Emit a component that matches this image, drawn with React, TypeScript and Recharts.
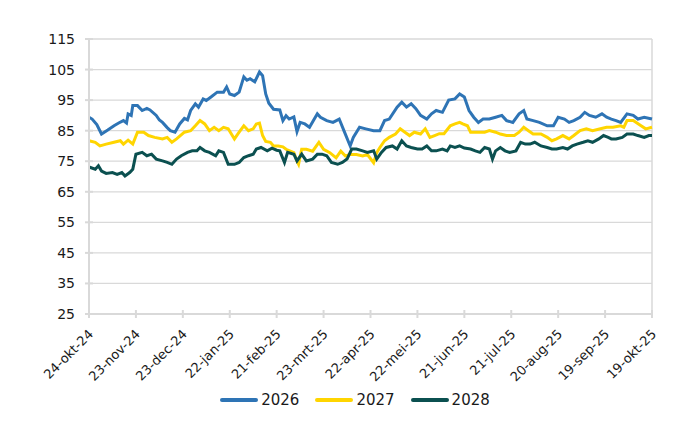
import React from "react";
import {
  LineChart,
  Line,
  XAxis,
  YAxis,
  CartesianGrid,
  Legend,
  ReferenceLine,
} from "recharts";

document.body.style.margin = "0";

// x-axis: days since 24-okt-24, a label every 30 days
const tickLabels = [
  "24-okt-24",
  "23-nov-24",
  "23-dec-24",
  "22-jan-25",
  "21-feb-25",
  "23-mrt-25",
  "22-apr-25",
  "22-mei-25",
  "21-jun-25",
  "21-jul-25",
  "20-aug-25",
  "19-sep-25",
  "19-okt-25",
];
const xTicks = tickLabels.map((_, i) => i * 30);
const yTicks = [25, 35, 45, 55, 65, 75, 85, 95, 105, 115];

const days2026 = [
  0, 2, 5, 8, 12, 16, 19, 22, 24, 25, 27, 28, 31, 34, 37, 39, 43, 45, 47, 50,
  52, 55, 58, 61, 63, 65, 68, 70, 73, 75, 78, 82, 86, 88, 90, 93, 96, 99, 101,
  103, 106, 109, 111, 113, 115, 118, 122, 124, 126, 128, 131, 133, 135, 138,
  141, 146, 148, 152, 156, 160, 163, 167, 169, 173, 177, 182, 186, 189, 192,
  197, 200, 203, 206, 209, 212, 216, 219, 222, 226, 230, 234, 237, 240, 243,
  246, 249, 252, 256, 260, 264, 267, 271, 275, 278, 280, 284, 288, 293, 297,
  300, 304, 307, 310, 314, 317, 320, 324, 328, 331, 334, 337, 340, 344, 348,
  351, 355, 360,
];
const values2026 = [
  89.4, 88.8, 87, 83.9, 85.2, 86.6, 87.5, 88.3, 87.5, 90.5, 90, 93.2, 93.2,
  91.6, 92.3, 91.8, 90, 88.5, 87.7, 86, 85, 84.5, 87.2, 89, 88.5, 91.6, 93.8,
  92.7, 95.4, 94.9, 96, 97.6, 97.6, 99.3, 97, 96.5, 97.6, 102.6, 101.5, 102,
  101, 104.2, 103, 97, 94, 92, 91.8, 88.3, 89.9, 88.8, 89.5, 84.7, 87.7, 87.2,
  86.1, 90.5, 89.4, 88.3, 87.7, 88.8, 85, 80, 82.8, 86.1, 85.6, 85, 85, 88.3,
  88.8, 92.7, 94.3, 92.7, 93.8, 92.2, 90, 88.8, 90.5, 91.6, 91, 95, 95.4, 97,
  96, 91.6, 89.4, 87.7, 88.8, 88.8, 89.4, 90, 88.3, 87.7, 90.5, 91.6, 88.8,
  88.3, 87.7, 86.6, 86.6, 89.4, 88.8, 87.7, 88.3, 89.4, 91, 90, 89.4, 90.5,
  89.4, 88.8, 88.3, 87.7, 90.5, 90, 88.8, 89.4, 88.8,
];

const days2027 = [
  0, 4, 7, 11, 16, 20, 22, 25, 28, 31, 35, 38, 42, 47, 50, 53, 56, 61, 65, 68,
  71, 74, 77, 80, 83, 86, 89, 93, 96, 99, 102, 105, 107, 109, 111, 113, 116,
  118, 121, 124, 126, 131, 133, 134, 136, 139, 143, 147, 150, 154, 158, 161,
  164, 167, 171, 175, 178, 182, 184, 186, 189, 192, 196, 199, 202, 205, 208,
  212, 215, 218, 221, 224, 227, 231, 234, 237, 239, 242, 244, 247, 250, 253,
  256, 260, 263, 267, 272, 275, 278, 281, 284, 289, 293, 296, 299, 303, 307,
  310, 314, 318, 322, 327, 331, 335, 340, 342, 344, 348, 353, 356, 360,
];
const values2027 = [
  81.7, 81.2, 80, 80.6, 81.2, 81.7, 80.6, 81.9, 80.6, 84.5, 84.5, 83.4, 82.8,
  82.3, 82.8, 81.2, 82.3, 84.5, 85, 86.6, 88.3, 87.2, 85, 86.1, 85, 86.1, 85.6,
  82.3, 84.5, 86.6, 85, 85.6, 87.2, 87.5, 83.4, 81.5, 81.2, 80, 80, 79.7, 78.9,
  77.8, 75, 74, 78.9, 78.9, 78.3, 81.2, 78.9, 77.8, 76.1, 78.3, 76.7, 77.2,
  77.2, 76.7, 77.2, 74.5, 77.8, 79.5, 81.7, 82.8, 83.9, 85.6, 84.5, 83.4, 84.5,
  83.9, 85.6, 82.8, 83.4, 84, 84, 86.6, 87.2, 87.7, 87.2, 86.6, 84.5, 84.5,
  84.5, 84.5, 85, 84.5, 83.9, 83.4, 83.4, 84.5, 86.1, 85, 83.9, 83.9, 82.8,
  81.7, 82.3, 83.4, 82.3, 83.4, 85, 85.6, 85, 85.6, 86.1, 86.1, 86.6, 86.1,
  88.3, 88.3, 86.6, 85.6, 86.1,
];

const days2028 = [
  0, 4, 6, 8, 11, 15, 18, 21, 23, 26, 28, 30, 34, 37, 40, 43, 47, 50, 53, 56,
  59, 63, 66, 69, 71, 74, 77, 81, 83, 86, 89, 93, 96, 99, 102, 105, 107, 110,
  114, 117, 120, 122, 125, 127, 131, 133, 136, 139, 143, 146, 149, 152, 155,
  159, 162, 165, 168, 171, 175, 178, 182, 184, 187, 190, 194, 197, 200, 203,
  206, 210, 213, 216, 219, 222, 226, 229, 231, 234, 237, 240, 244, 247, 250,
  253, 256, 258, 260, 263, 266, 269, 273, 276, 279, 282, 285, 289, 293, 296,
  299, 303, 306, 309, 312, 316, 319, 322, 326, 329, 332, 334, 337, 341, 344,
  348, 351, 355, 358, 360,
];
const values2028 = [
  73.1, 72.4, 73.5, 71.8, 71, 71.3, 70.7, 71.3, 70.2, 71.3, 72.4, 77.3, 77.9,
  76.8, 77.3, 75.7, 75.1, 74.6, 74, 75.7, 76.8, 77.9, 78.4, 78.4, 79.5, 78.4,
  77.9, 76.8, 78.4, 77.9, 74, 74, 74.6, 76.2, 76.8, 77.3, 79, 79.5, 78.4, 79.3,
  78.6, 78.4, 74.6, 77.9, 77.3, 75.1, 77.3, 75.1, 75.7, 77.3, 77.3, 76.8, 74.6,
  74, 74.6, 75.7, 79, 79, 78.4, 77.9, 78.4, 75.7, 77.9, 79.5, 80, 79, 81.7, 80,
  79.5, 79, 79, 80, 78.4, 78.4, 79, 78.4, 80, 79.5, 80, 79.3, 79, 78.4, 77.9,
  79.5, 79, 75.7, 78.4, 79.5, 78.4, 77.9, 78.4, 81.2, 80.6, 80.6, 81.2, 80,
  79.5, 79, 79, 79.5, 79, 80, 80.6, 81.2, 81.7, 81.2, 82.3, 83.4, 82.8, 82.3,
  82.3, 82.8, 83.9, 83.9, 83.4, 82.8, 83.4, 83.4,
];

const toPoints = (days: number[], values: number[]) =>
  days.map((day, i) => ({ day, value: values[i] }));

const series = [
  { name: "2026", color: "#2e74b5", data: toPoints(days2026, values2026) },
  { name: "2027", color: "#ffd500", data: toPoints(days2027, values2027) },
  { name: "2028", color: "#0b5050", data: toPoints(days2028, values2028) },
];

const axisColor = "#d9d9d9";
const font = "'DejaVu Sans', sans-serif";

const YTick = ({ x, y, payload }: any) => (
  <g>
    <line x1={x - 4} x2={x + 4} y1={y} y2={y} stroke={axisColor} strokeWidth={2} />
    <text
      x={x - 14}
      y={y}
      dy={5}
      textAnchor="end"
      fontSize={14}
      fill="#1a1a1a"
      fontFamily={font}
    >
      {payload.value}
    </text>
  </g>
);

const XTick = ({ x, y, payload }: any) => (
  <g>
    <line x1={x} x2={x} y1={y - 4} y2={y + 4} stroke={axisColor} strokeWidth={2} />
    <text
      transform={`translate(${x + 5},${y + 21}) rotate(-45)`}
      textAnchor="end"
      fontSize={13}
      fill="#1a1a1a"
      fontFamily={font}
    >
      {tickLabels[Math.round(payload.value / 30)]}
    </text>
  </g>
);

const renderLegend = () => (
  <div
    style={{
      display: "flex",
      justifyContent: "center",
      gap: 16,
      fontFamily: font,
      fontSize: 15,
      color: "#1a1a1a",
      paddingLeft: 58,
    }}
  >
    {series.map((s) => (
      <div key={s.name} style={{ display: "flex", alignItems: "center" }}>
        <span
          style={{
            display: "inline-block",
            width: 38,
            height: 4,
            borderRadius: 2,
            background: s.color,
            marginRight: 3,
          }}
        />
        {s.name}
      </div>
    ))}
  </div>
);

const App = () => {
  return (
    <div style={{ width: 700, height: 430, background: "#fff" }}>
      <LineChart
        width={700}
        height={430}
        margin={{ top: 39, right: 48, left: 0, bottom: 28 }}
      >
        <CartesianGrid vertical={false} stroke={axisColor} strokeWidth={1.3} />
        <XAxis
          type="number"
          dataKey="day"
          domain={[0, 360]}
          ticks={xTicks}
          interval={0}
          height={70}
          tickSize={0}
          tickMargin={0}
          axisLine={{ stroke: axisColor, strokeWidth: 2 }}
          tick={<XTick />}
        />
        <YAxis
          domain={[25, 115]}
          ticks={yTicks}
          interval={0}
          width={89}
          tickSize={0}
          tickMargin={0}
          axisLine={{ stroke: axisColor, strokeWidth: 2 }}
          tick={<YTick />}
        />
        <ReferenceLine x={360} stroke={axisColor} strokeWidth={1.5} />
        {series.map((s) => (
          <Line
            key={s.name}
            data={s.data}
            dataKey="value"
            name={s.name}
            type="linear"
            stroke={s.color}
            strokeWidth={3}
            dot={false}
            isAnimationActive={false}
          />
        ))}
        <Legend
          verticalAlign="bottom"
          content={renderLegend}
          wrapperStyle={{ bottom: 21 }}
        />
      </LineChart>
    </div>
  );
};

export default App;
